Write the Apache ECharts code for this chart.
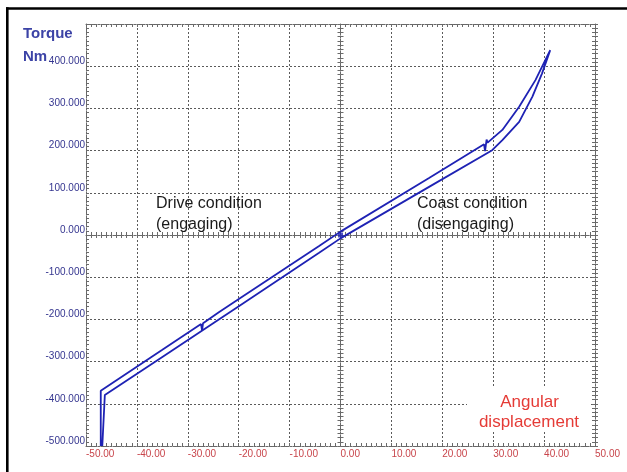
<!DOCTYPE html>
<html><head><meta charset="utf-8">
<script src="https://cdn.jsdelivr.net/npm/echarts@6/dist/echarts.min.js"></script>
<style>html,body{margin:0;padding:0;background:#fff}#c{width:627px;height:472px}</style>
</head><body><div id="c"></div>
<script>
// ---- data ----
const xTickValues = [-50, -40, -30, -20, -10, 0, 10, 20, 30, 40, 50];
const yTickValues = [-500, -400, -300, -200, -100, 0, 100, 200, 300, 400, 500];
// upper branch of the hysteresis loop (angle in deg, torque in Nm)
const upperBranch = [
  [-47.1, -500], [-47.1, -369], [-35.0, -272], [-27.4, -211], [-27.2, -226], [-27.0, -209],
  [-23.9, -183], [-19.9, -151], [-4.2, -26], [0.0, 8], [17.4, 135],
  [28.2, 215], [28.4, 199], [28.7, 226], [28.9, 219],
  [31.8, 249], [35.1, 304], [38.3, 367], [41.2, 438]
];
// lower branch (returning from the tip)
const lowerBranch = [
  [41.2, 438], [39.6, 383], [37.7, 328], [35.1, 268], [31.8, 225], [29.8, 201],
  [17.4, 114], [0.0, -8], [-4.2, -42], [-19.9, -168], [-23.9, -200],
  [-35.0, -289], [-46.3, -379], [-46.8, -500]
];
const originMarker = [[0, 0]];
const loopPath = upperBranch.concat(lowerBranch.slice(1));

const chart = echarts.init(document.getElementById('c'), null, {renderer: 'canvas'});
const dash = {color: '#5a5a5a', width: 1, type: [2, 2]};
const frameLine = {color: '#6a6a6a', width: 1, type: [2, 1]};
const tickStyle = {color: '#6a6a6a', width: 1};
const X = {min: xTickValues[0], max: xTickValues[xTickValues.length - 1], interval: 10};
const Y = {min: yTickValues[0], max: yTickValues[yTickValues.length - 1], interval: 100};

function xAx(extra) {
  return Object.assign({
    type: 'value', min: X.min, max: X.max, interval: X.interval,
    axisLabel: {show: false}, splitLine: {show: false},
    axisTick: {show: true, inside: true, length: 3, lineStyle: tickStyle},
    minorTick: {show: true, splitNumber: 10, length: 3, lineStyle: tickStyle},
    axisLine: {show: true, onZero: false, lineStyle: frameLine}
  }, extra);
}
function yAx(extra) {
  return Object.assign({
    type: 'value', min: Y.min, max: Y.max, interval: Y.interval,
    axisLabel: {show: false}, splitLine: {show: false},
    axisTick: {show: true, inside: true, length: 3, lineStyle: tickStyle},
    minorTick: {show: true, splitNumber: 10, length: 3, lineStyle: tickStyle},
    axisLine: {show: true, onZero: false, lineStyle: frameLine}
  }, extra);
}

const option = {
  animation: false,
  backgroundColor: '#ffffff',
  grid: {left: 86, right: 32, top: 24, bottom: 26, containLabel: false, outerBoundsMode: 'none'},
  xAxis: [
    xAx({position: 'bottom',
      axisLabel: {show: true, align: 'left', margin: 3, color: '#c8454b', fontSize: 10,
        fontFamily: 'Liberation Sans', formatter: v => v.toFixed(2)},
      splitLine: {show: true, lineStyle: dash}}),
    xAx({position: 'top'}),
    xAx({position: 'bottom', axisLine: {show: true, onZero: true, onZeroAxisIndex: 0, lineStyle: frameLine},
      axisTick: {show: true, inside: true, length: 3, lineStyle: tickStyle}}),
    xAx({position: 'bottom', axisLine: {show: false, onZero: true, onZeroAxisIndex: 0},
      axisTick: {show: true, inside: false, length: 3, lineStyle: tickStyle}})
  ],
  yAxis: [
    yAx({position: 'left',
      axisLabel: {show: true, margin: 1, color: '#34358f', fontSize: 10, verticalAlign: 'bottom',
        showMaxLabel: false, fontFamily: 'Liberation Sans',
        formatter: v => (v === Y.max ? '' : v.toFixed(3))},
      splitLine: {show: true, lineStyle: dash}}),
    yAx({position: 'right'}),
    yAx({position: 'right', axisLine: {show: false, onZero: false},
      axisTick: {show: true, inside: false, length: 3, lineStyle: tickStyle}}),
    yAx({position: 'left', axisLine: {show: true, onZero: true, onZeroAxisIndex: 0, lineStyle: frameLine}}),
    yAx({position: 'left', axisLine: {show: false, onZero: true, onZeroAxisIndex: 0},
      axisTick: {show: true, inside: false, length: 3, lineStyle: tickStyle}})
  ],
  series: [
    {type: 'line', xAxisIndex: 0, yAxisIndex: 0, data: loopPath, showSymbol: false, symbol: 'none',
      lineStyle: {color: '#1e22b4', width: 1.8}, z: 5, silent: true},
    {type: 'scatter', xAxisIndex: 0, yAxisIndex: 0, data: originMarker, symbol: 'rect', symbolSize: 5,
      itemStyle: {color: '#1e22b4'}, z: 6, silent: true}
  ],
  graphic: [
    {type: 'line', z: 100, shape: {x1: 6, y1: 8.5, x2: 627, y2: 8.5}, style: {stroke: '#000', lineWidth: 2.6}},
    {type: 'line', z: 100, shape: {x1: 7.3, y1: 7.2, x2: 7.3, y2: 472}, style: {stroke: '#000', lineWidth: 2.6}},
    {type: 'text', z: 100, style: {text: 'Torque', x: 23, y: 34, fill: '#3c43a6',
      font: 'bold 15px "Liberation Sans", Arial, sans-serif', align: 'left', verticalAlign: 'middle',
      textAlign: 'left', textVerticalAlign: 'middle'}},
    {type: 'text', z: 100, style: {text: 'Nm', x: 23, y: 57, fill: '#3c43a6',
      font: 'bold 15px "Liberation Sans", Arial, sans-serif', align: 'left', verticalAlign: 'middle',
      textAlign: 'left', textVerticalAlign: 'middle'}},
    {type: 'text', z: 100, style: {text: 'Drive condition', x: 156, y: 204, fill: '#1a1a1a',
      font: '16px "Liberation Sans", Arial, sans-serif', align: 'left', verticalAlign: 'middle',
      textAlign: 'left', textVerticalAlign: 'middle'}},
    {type: 'text', z: 100, style: {text: '(engaging)', x: 156, y: 225, fill: '#1a1a1a',
      font: '16px "Liberation Sans", Arial, sans-serif', align: 'left', verticalAlign: 'middle',
      textAlign: 'left', textVerticalAlign: 'middle'}},
    {type: 'text', z: 100, style: {text: 'Coast condition', x: 417, y: 204, fill: '#1a1a1a',
      font: '16px "Liberation Sans", Arial, sans-serif', align: 'left', verticalAlign: 'middle',
      textAlign: 'left', textVerticalAlign: 'middle'}},
    {type: 'text', z: 100, style: {text: '(disengaging)', x: 417, y: 225, fill: '#1a1a1a',
      font: '16px "Liberation Sans", Arial, sans-serif', align: 'left', verticalAlign: 'middle',
      textAlign: 'left', textVerticalAlign: 'middle'}},
    {type: 'rect', z: 90, shape: {x: 467, y: 387, width: 124, height: 45}, style: {fill: '#ffffff'}},
    {type: 'text', z: 100, style: {text: 'Angular', x: 529.5, y: 402, fill: '#e53b36',
      font: '17px "Liberation Sans", Arial, sans-serif', align: 'center', verticalAlign: 'middle',
      textAlign: 'center', textVerticalAlign: 'middle'}},
    {type: 'text', z: 100, style: {text: 'displacement', x: 529, y: 422, fill: '#e53b36',
      font: '17px "Liberation Sans", Arial, sans-serif', align: 'center', verticalAlign: 'middle',
      textAlign: 'center', textVerticalAlign: 'middle'}}
  ]
};
chart.setOption(option);
</script>
</body></html>
